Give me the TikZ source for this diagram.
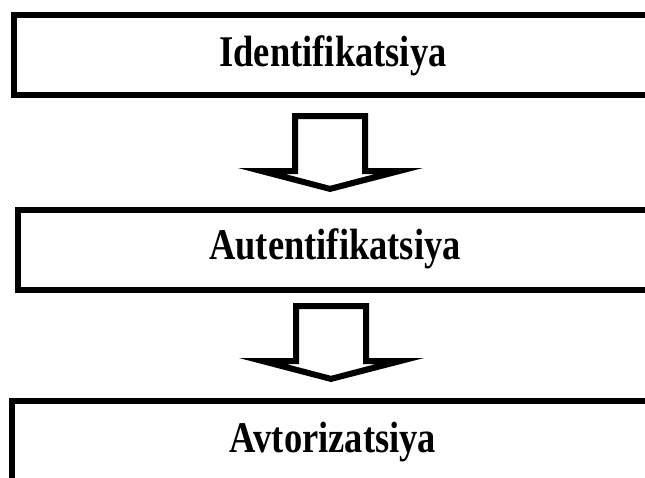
\documentclass[tikz,border=0pt]{standalone}
\usepackage{fontspec}
\usepackage{graphicx}
\setmainfont{Liberation Serif}
\newcommand{\boxlabel}[1]{\scalebox{1.0}[1.2]{#1}}
\begin{document}
\begin{tikzpicture}[x=1pt,y=-1pt,
  box/.style={draw=black, line width=6pt, rectangle, inner sep=0pt,
    font=\fontsize{36.5}{40}\selectfont\bfseries},
  pics/blockarrow/.style={code={
    \fill[black, even odd rule]
      (-38,0) -- (38,0) -- (38,55) -- (93,55) -- (0,79) -- (-92,55) -- (-38,55) -- cycle
      (-32,6) -- (32,6) -- (32,61) -- (45,61) -- (0,72.8) -- (-45,61) -- (-32,61) -- cycle;
  }}]
\useasboundingbox (0,0) rectangle (645,477);
\node[box, minimum width=638pt, minimum height=80pt, text height=26pt, text depth=4pt]
  (ident) at (333,55) {\boxlabel{Identifikatsiya}};
\node[box, minimum width=634pt, minimum height=80pt, text height=24pt, text depth=6pt]
  (auth) at (335,250) {\boxlabel{Autentifikatsiya}};
\node[box, minimum width=642pt, minimum height=89pt, text height=21.5pt, text depth=8.5pt]
  (avt) at (333,445.5) {\boxlabel{Avtorizatsiya}};
\coordinate (a1) at (330,113);
\coordinate (a2) at (331,303);
\pic at (a1) {blockarrow};
\pic at (a2) {blockarrow};
\end{tikzpicture}
\end{document}
